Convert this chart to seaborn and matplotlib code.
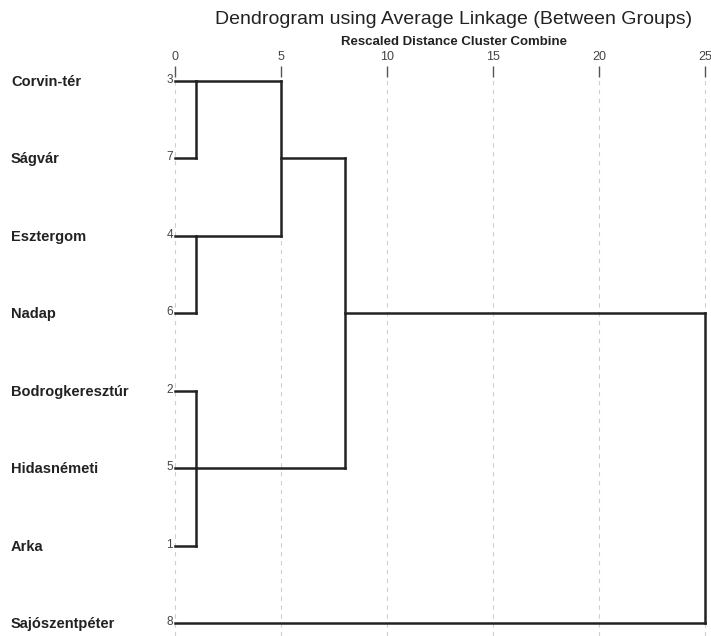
import matplotlib
matplotlib.use("Agg")
import matplotlib.pyplot as plt
import seaborn as sns
import pandas as pd

# ---- data ----
labels = ["Corvin-tér", "Ságvár", "Esztergom", "Nadap",
          "Bodrogkeresztúr", "Hidasnémeti", "Arka", "Sajószentpéter"]
case_numbers = [3, 7, 4, 6, 2, 5, 1, 8]
# merges: (children, distance, output row); child = ("leaf", row) or ("m", merge index)
merge_children = [
    [("leaf", 0), ("leaf", 1)],
    [("leaf", 2), ("leaf", 3)],
    [("leaf", 4), ("leaf", 5), ("leaf", 6)],
    [("m", 0), ("m", 1)],
    [("m", 3), ("m", 2)],
    [("m", 4), ("leaf", 7)],
]
merge_distances = [1, 1, 1, 5, 8, 25]
merge_out_rows = [0, 2, 5, 1, 3, 3]
tick_values = [0, 5, 10, 15, 20, 25]

# ---- build segments ----
rows = []
seg = 0
for i, children in enumerate(merge_children):
    d = merge_distances[i]
    child_rows = []
    for kind, ref in children:
        if kind == "leaf":
            x0, r = 0, ref
        else:
            x0, r = merge_distances[ref], merge_out_rows[ref]
        rows += [(seg, x0, r), (seg, d, r)]
        seg += 1
        child_rows.append(r)
    rows += [(seg, d, min(child_rows)), (seg, d, max(child_rows))]
    seg += 1
df = pd.DataFrame(rows, columns=["seg", "x", "y"])

# ---- plot ----
sns.set_style("white")
plt.rcParams["font.family"] = ["Liberation Sans", "DejaVu Sans"]

W, H = 711, 636
fig = plt.figure(figsize=(W / 100, H / 100), dpi=100)
ax_l, ax_r, ax_t, ax_b = 170, 710, 77, 636
ax = fig.add_axes([ax_l / W, 1 - ax_b / H, (ax_r - ax_l) / W, (ax_b - ax_t) / H])

px_per_unit = (705 - 175) / 25
row_px = (623 - 81) / 7
ax.set_xlim(-(175 - ax_l) / px_per_unit, 25 + (ax_r - 705) / px_per_unit)
ax.set_ylim((ax_b - 81) / row_px, -(81 - ax_t) / row_px)

for v in tick_values:
    ax.axvline(v, color="#cfcfcf", lw=0.8, ls=(0, (4, 4)), zorder=0)

sns.lineplot(data=df, x="x", y="y", units="seg", estimator=None, sort=False,
             color="#222222", lw=1.8, ax=ax, legend=False)
for line in ax.lines:
    line.set_clip_on(False)
    line.set_solid_capstyle("projecting")

ax.xaxis.tick_top()
ax.set_xticks(tick_values)
ax.set_xticklabels([str(v) for v in tick_values], fontsize=9, color="#444444")
ax.tick_params(axis="x", length=8, width=1, color="#555555", pad=2, top=True, bottom=False)
ax.set_yticks([])
ax.set_xlabel("")
ax.set_ylabel("")
for s in ax.spines.values():
    s.set_visible(False)

for i, (lab, num) in enumerate(zip(labels, case_numbers)):
    y_fig = 1 - (82 + i * row_px) / H
    fig.text(11 / W, y_fig, lab, fontsize=10.5, fontweight="bold", color="#222222",
             ha="left", va="center")
    fig.text(173 / W, 1 - (80 + i * row_px) / H, str(num), fontsize=8.5, color="#444444",
             ha="right", va="center")

fig.text(454 / W, 1 - 19 / H, "Dendrogram using Average Linkage (Between Groups)",
         fontsize=14, color="#222222", ha="center", va="center")
fig.text(454 / W, 1 - 42 / H, "Rescaled Distance Cluster Combine",
         fontsize=9.5, fontweight="bold", color="#222222", ha="center", va="center")

fig.savefig("out.png", dpi=100)
